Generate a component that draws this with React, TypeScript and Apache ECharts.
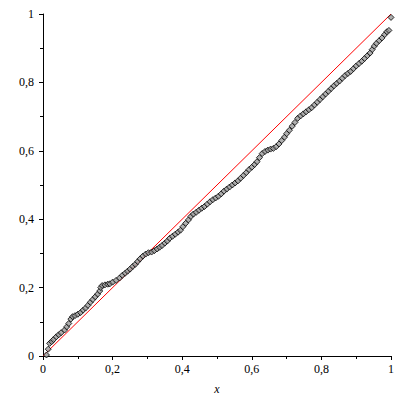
import React, { useEffect, useRef } from "react";
import * as echarts from "echarts";

const refLine: [number, number][] = [
  [0, 0],
  [1, 1],
];

const xs: number[] = [
  0.010, 0.015, 0.019, 0.025, 0.030, 0.038, 0.045, 0.052, 0.062, 0.068, 0.074, 0.080, 0.085, 0.092, 0.100,
  0.108, 0.115, 0.122, 0.129, 0.136, 0.143, 0.150, 0.157, 0.163, 0.166, 0.170, 0.178, 0.186, 0.192, 0.200,
  0.210, 0.220, 0.228, 0.236, 0.243, 0.250, 0.258, 0.265, 0.272, 0.279, 0.287, 0.295, 0.303, 0.312, 0.320,
  0.328, 0.335, 0.342, 0.350, 0.357, 0.364, 0.372, 0.380, 0.388, 0.395, 0.402, 0.410, 0.418, 0.425, 0.432,
  0.440, 0.448, 0.456, 0.464, 0.472, 0.480, 0.488, 0.496, 0.504, 0.512, 0.520, 0.528, 0.536, 0.544, 0.552,
  0.560, 0.568, 0.576, 0.584, 0.592, 0.600, 0.608, 0.615, 0.622, 0.630, 0.638, 0.646, 0.654, 0.662, 0.670,
  0.678, 0.686, 0.694, 0.700, 0.708, 0.716, 0.724, 0.732, 0.740, 0.748, 0.756, 0.764, 0.772, 0.780, 0.788,
  0.796, 0.804, 0.812, 0.820, 0.828, 0.836, 0.844, 0.852, 0.860, 0.868, 0.876, 0.884, 0.892, 0.900, 0.908,
  0.916, 0.924, 0.932, 0.940, 0.946, 0.952, 0.958, 0.966, 0.974, 0.982, 0.988, 0.994, 1.000,
];

const ys: number[] = [
  0.003, 0.020, 0.037, 0.042, 0.048, 0.056, 0.062, 0.068, 0.076, 0.085, 0.095, 0.108, 0.115, 0.118, 0.122,
  0.127, 0.134, 0.140, 0.148, 0.157, 0.165, 0.173, 0.181, 0.190, 0.200, 0.206, 0.208, 0.210, 0.211, 0.216,
  0.221, 0.228, 0.236, 0.242, 0.248, 0.254, 0.262, 0.268, 0.276, 0.284, 0.292, 0.298, 0.302, 0.304, 0.308,
  0.313, 0.318, 0.323, 0.330, 0.336, 0.344, 0.350, 0.356, 0.362, 0.368, 0.378, 0.388, 0.398, 0.408, 0.415,
  0.420, 0.426, 0.432, 0.437, 0.444, 0.451, 0.457, 0.462, 0.467, 0.474, 0.482, 0.488, 0.494, 0.500, 0.506,
  0.512, 0.520, 0.528, 0.536, 0.545, 0.552, 0.560, 0.568, 0.580, 0.592, 0.598, 0.602, 0.605, 0.607, 0.612,
  0.620, 0.630, 0.640, 0.650, 0.660, 0.672, 0.683, 0.695, 0.702, 0.708, 0.714, 0.720, 0.726, 0.734, 0.742,
  0.750, 0.758, 0.766, 0.774, 0.782, 0.790, 0.797, 0.804, 0.812, 0.820, 0.826, 0.832, 0.840, 0.848, 0.855,
  0.862, 0.870, 0.878, 0.886, 0.896, 0.906, 0.914, 0.922, 0.930, 0.940, 0.948, 0.952, 0.990,
];

const fmt = (v: number) => String(Math.round(v * 10) / 10).replace(".", ",");

const FONT = "Liberation Serif";

export default function App() {
  const ref = useRef<HTMLDivElement>(null);
  useEffect(() => {
    if (!ref.current) return;
    const chart = echarts.init(ref.current, null, { renderer: "svg" });
    const pts = xs.map((x, i) => [x, ys[i]]);
    const axisCommon = {
      type: "value" as const,
      min: 0,
      max: 1,
      interval: 0.2,
      splitLine: { show: false },
      axisLine: { show: true, onZero: false, lineStyle: { color: "#000", width: 1 } },
      axisTick: { show: true, length: 4, lineStyle: { color: "#000" } },
      minorTick: { show: true, splitNumber: 2, length: 3, lineStyle: { color: "#000" } },
      minorSplitLine: { show: false },
    };
    chart.setOption({
      animation: false,
      backgroundColor: "#fff",
      grid: { left: 43, right: 21, top: 14, bottom: 42, containLabel: false },
      xAxis: {
        ...axisCommon,
        name: "x",
        nameLocation: "middle",
        nameGap: 27,
        nameTextStyle: { fontFamily: FONT, fontStyle: "italic", fontSize: 12, color: "#000" },
        axisLabel: { formatter: fmt, fontFamily: FONT, fontSize: 12, color: "#000", margin: 7 },
      },
      yAxis: {
        ...axisCommon,
        axisLabel: { formatter: fmt, fontFamily: FONT, fontSize: 12, color: "#000", margin: 9 },
      },
      series: [
        {
          type: "line",
          data: refLine,
          showSymbol: false,
          lineStyle: { color: "#ff0000", width: 1 },
          z: 2,
        },
        {
          type: "scatter",
          data: pts,
          symbol: "diamond",
          symbolSize: 6,
          itemStyle: { color: "#9a9a9a", borderColor: "#000", borderWidth: 1 },
          z: 3,
        },
      ],
    });
    return () => chart.dispose();
  }, []);
  return <div ref={ref} style={{ width: 412, height: 400, position: "absolute", left: 0, top: 0 }} />;
}
